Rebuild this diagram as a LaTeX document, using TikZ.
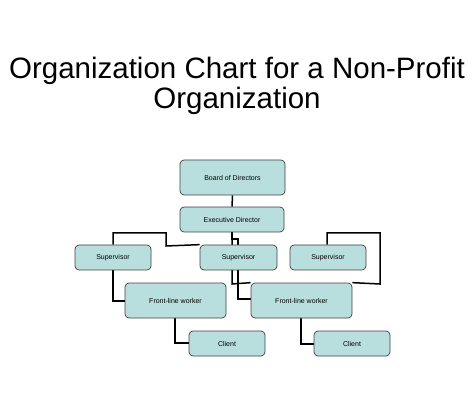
\documentclass[tikz,border=0pt]{standalone}
\usepackage{fontspec}
\setmainfont{Liberation Sans}
\usetikzlibrary{backgrounds}
\begin{document}
\begin{tikzpicture}[x=1pt,y=-1pt,
 box/.style={draw=black!75,line width=0.7pt,fill=boxc,rounded corners=4pt,font=\fontsize{7}{8}\selectfont},
 con/.style={line width=1.5pt}]
\definecolor{boxc}{RGB}{184,222,222}
\useasboundingbox (0,0) rectangle (474,406);
\node[font=\fontsize{29.5}{30}\selectfont,align=center] (title) at (237,86) {Organization Chart for a Non-Profit\\Organization};
\newcommand{\bx}[6]{\node[box,minimum width=#4-#2,minimum height=#5-#3] (#1) at ({(#2+#4)/2},{(#3+#5)/2}) {#6};}
\bx{bod}{180}{160}{285}{195}{Board of Directors}
\bx{ed}{180}{207}{284}{232}{Executive Director}
\bx{s1}{75}{245}{151}{270}{Supervisor}
\bx{s2}{200}{245}{277}{270}{Supervisor}
\bx{s3}{290}{245}{366}{270}{Supervisor}
\bx{f1}{125}{283}{226}{318}{Front-line worker}
\bx{f2}{251}{283}{352}{318}{Front-line worker}
\bx{c1}{189}{331}{265}{356}{Client}
\bx{c2}{314}{331}{390}{356}{Client}
\begin{scope}[on background layer]
\draw[con] (bod.south) -- (ed.north);
\draw[con] (s1.north -| 113,0) -- (113,233) -- (166,233) -- (166,246) -- (s2.north west);
\draw[con] (ed.south -| 232,0) -- (232,239) -- (238,239) -- (238,299) -- (f2.west |- 0,299);
\draw[con] (ed.south -| 232,0) -- (232,284) -- (f2.north west);
\draw[con] (s3.north -| 327,0) -- (327,233) -- (380,233) -- (380,284) -- (f2.north east);
\draw[con] (s1.south -| 113,0) -- (113,301) -- (f1.west |- 0,301);
\draw[con] (f1.south -| 175,0) -- (175,343) -- (c1.west |- 0,343);
\draw[con] (f2.south -| 301,0) -- (301,344) -- (c2.west |- 0,344);
\end{scope}
\end{tikzpicture}
\end{document}
